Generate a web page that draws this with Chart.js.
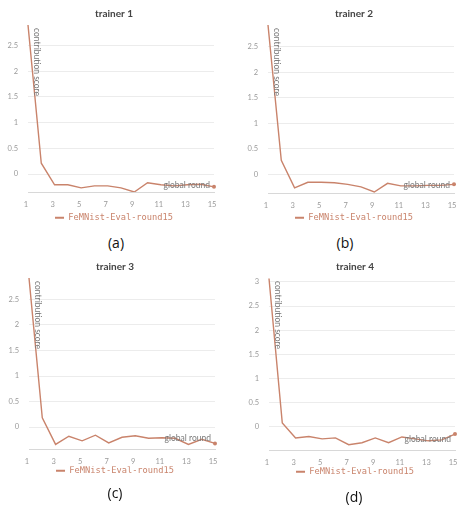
<!DOCTYPE html>
<html>
<head>
<meta charset="utf-8">
<script src="https://cdn.jsdelivr.net/npm/chart.js@4.4.0/dist/chart.umd.min.js"></script>
<style>
  html, body { margin: 0; padding: 0; background: #fff; }
  body { width: 457px; height: 506px; overflow: hidden; position: relative; }
  .panel { position: absolute; }
  .cap { position: absolute; font: 14px "Open Sans", sans-serif; line-height: 16px; color: #111; transform: translateX(-50%); }
</style>
</head>
<body>
<div class="panel" style="left:0;top:0"><canvas id="c1" width="228" height="232"></canvas></div>
<div class="panel" style="left:240px;top:0"><canvas id="c2" width="228" height="232"></canvas></div>
<div class="panel" style="left:1px;top:253px"><canvas id="c3" width="228" height="232"></canvas></div>
<div class="panel" style="left:241px;top:253px"><canvas id="c4" width="228" height="233"></canvas></div>
<div class="cap" style="left:116px;top:235px">(a)</div>
<div class="cap" style="left:345px;top:235px">(b)</div>
<div class="cap" style="left:115px;top:485px">(c)</div>
<div class="cap" style="left:354px;top:489px">(d)</div>

<script>
// ── Data ──────────────────────────────────────────────────────────────────
const rounds   = [1, 2, 3, 4, 5, 6, 7, 8, 9, 10, 11, 12, 13, 14, 15];
const yTicks   = [0, 0.5, 1, 1.5, 2, 2.5, 3];
const trainer1 = [2.9, 0.21, -0.21, -0.21, -0.27, -0.23, -0.23, -0.27, -0.35, -0.17, -0.21, -0.23, -0.21, -0.2, -0.25];
const trainer2 = [2.93, 0.27, -0.27, -0.16, -0.16, -0.17, -0.2, -0.25, -0.35, -0.18, -0.23, -0.23, -0.22, -0.22, -0.2];
const trainer3 = [2.92, 0.18, -0.34, -0.18, -0.27, -0.16, -0.31, -0.2, -0.17, -0.22, -0.21, -0.22, -0.34, -0.24, -0.32];
const trainer4 = [3.07, 0.08, -0.23, -0.2, -0.25, -0.23, -0.37, -0.33, -0.23, -0.33, -0.21, -0.25, -0.29, -0.27, -0.15];
const titles   = ["trainer 1", "trainer 2", "trainer 3", "trainer 4"];
const seriesName = "FeMNist-Eval-round15";

const lineColor = "#c9836b";
const tickFont  = { family: "Lato", size: 7.5 };

// axis names sit inside the plot area, like the original dashboard draws them
const axisNames = {
    id: "axisNames",
    afterDatasetsDraw(chart, args, opts) {
        const { ctx, chartArea: a } = chart;
        ctx.save();
        ctx.fillStyle = "#7a7a7a";
        ctx.font = "8.5px Lato, sans-serif";
        ctx.textBaseline = "middle";
        ctx.textAlign = "right";
        ctx.fillText("global round", a.right - 4, a.bottom - opts.gy);
        ctx.translate(a.left + 9, a.top + 3);
        ctx.rotate(Math.PI / 2);
        ctx.textAlign = "left";
        ctx.fillText("contribution score", 0, 0);
        ctx.restore();
    }
};

function makeChart(id, title, values, yMin, yMax, legendPad, gy) {
    const last = values.length - 1;
    return new Chart(document.getElementById(id), {
        type: "line",
        data: {
            labels: rounds,
            datasets: [{
                label: seriesName, data: values,
                borderColor: lineColor, backgroundColor: lineColor,
                borderWidth: 1.4, tension: 0,
                pointRadius: c => c.dataIndex === last ? 2 : 0,
                pointBorderWidth: 0, pointBackgroundColor: lineColor
            }]
        },
        options: {
            responsive: false, animation: false,
            layout: { padding: 0 },
            plugins: {
                title: { display: true, text: title, color: "#444",
                         font: { family: "Lato", size: 10, weight: "bold" },
                         padding: { top: 8, bottom: 5 } },
                legend: {
                    position: "bottom",
                    labels: {
                        boxWidth: 9, boxHeight: 2, padding: legendPad, color: lineColor,
                        font: { family: "DejaVu Sans Mono", size: 8.7 },
                        generateLabels: ch => {
                            const items = Chart.defaults.plugins.legend.labels.generateLabels(ch);
                            items.forEach(it => { it.lineWidth = 0; });
                            return items;
                        }
                    }
                },
                tooltip: { enabled: false },
                axisNames: { gy: gy }
            },
            scales: {
                x: {
                    type: "category",
                    grid: { display: false, drawTicks: false },
                    border: { display: true, color: "#d8d8d8", width: 1 },
                    ticks: { autoSkip: false, maxRotation: 0, padding: 8, labelOffset: -2,
                             color: "#9a9a9a", font: tickFont,
                             callback: (v, i) => i % 2 === 0 ? rounds[i] : "" },
                    afterFit: s => { s.height = 17.3; }
                },
                y: {
                    min: yMin, max: yMax,
                    grid: { color: "#ececec", drawTicks: false },
                    border: { display: false },
                    ticks: { padding: 10, color: "#9a9a9a", font: tickFont,
                             callback: v => String(v) },
                    afterBuildTicks: s => {
                        s.ticks = yTicks.filter(v => v >= s.min && v <= s.max).map(v => ({ value: v }));
                    },
                    afterFit: s => { s.width = 28; }
                },
                // empty right gutter so title + legend stay centred on the canvas
                yr: {
                    position: "right", display: true,
                    grid: { display: false, drawTicks: false }, border: { display: false },
                    ticks: { display: false },
                    afterFit: s => { s.width = 14; }
                }
            }
        },
        plugins: [axisNames]
    });
}

makeChart("c1", titles[0], trainer1, -0.35, 2.9, 4, 7);
makeChart("c2", titles[1], trainer2, -0.37, 2.93, 3, 8);
makeChart("c3", titles[2], trainer3, -0.43, 2.92, 0, 11);
makeChart("c4", titles[3], trainer4, -0.48, 3.08, 0, 11);
</script>
</body>
</html>
